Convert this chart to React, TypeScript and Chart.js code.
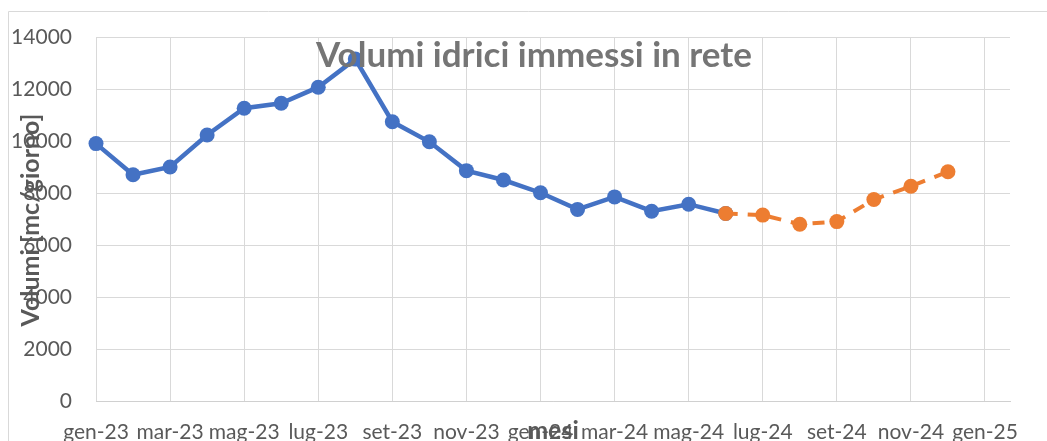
import React, { useEffect, useRef } from "react";
import { Chart, registerables } from "chart.js";

Chart.register(...registerables);

// Month ticks (every 2 months) shown on the x axis
const tickLabels = [
  "gen-23", "mar-23", "mag-23", "lug-23", "set-23", "nov-23",
  "gen-24", "mar-24", "mag-24", "lug-24", "set-24", "nov-24", "gen-25",
];

// Measured volumes, gen-23 .. giu-24 (month index 0..17)
const measuredValues = [
  9900, 8700, 9000, 10230, 11260, 11450, 12070, 13150, 10740, 9970,
  8860, 8500, 8010, 7370, 7850, 7300, 7570, 7210,
];
const measuredStart = 0;

// Forecast volumes, giu-24 .. dic-24 (month index 17..23)
const forecastValues = [7210, 7150, 6800, 6900, 7750, 8260, 8820];
const forecastStart = 17;

const titleText = "Volumi idrici immessi in rete";
const yTitleText = "Volumi [mc/giorno]";
const xTitleText = "mesi";

const FONT = "Lato, 'Open Sans', sans-serif";

export default function App() {
  const ref = useRef<HTMLCanvasElement | null>(null);

  useEffect(() => {
    const canvas = ref.current;
    if (!canvas) return;

    const overlay = {
      id: "overlay",
      beforeDraw(chart: any) {
        const ctx = chart.ctx;
        ctx.save();
        ctx.strokeStyle = "#d9d9d9";
        ctx.lineWidth = 1;
        ctx.beginPath();
        ctx.moveTo(8.5, 460);
        ctx.lineTo(8.5, 11.5);
        ctx.lineTo(1060, 11.5);
        ctx.stroke();
        ctx.restore();
      },
      afterDraw(chart: any) {
        const ctx = chart.ctx;
        ctx.save();
        // Title
        ctx.fillStyle = "#757575";
        ctx.font = `bold 35px ${FONT}`;
        ctx.textAlign = "center";
        ctx.textBaseline = "alphabetic";
        ctx.fillText(titleText, 534, 67);
        // Y title
        ctx.save();
        ctx.translate(39, 220);
        ctx.rotate(-Math.PI / 2);
        ctx.fillStyle = "#595959";
        ctx.font = `bold 25px ${FONT}`;
        ctx.textAlign = "center";
        ctx.textBaseline = "alphabetic";
        ctx.fillText(yTitleText, 0, 0);
        ctx.restore();
        // X title
        ctx.fillStyle = "#595959";
        ctx.font = `bold 25px ${FONT}`;
        ctx.textAlign = "center";
        ctx.textBaseline = "alphabetic";
        ctx.fillText(xTitleText, 553, 439);
        ctx.restore();
      },
    };

    const chart = new Chart(canvas, {
      type: "line",
      data: {
        datasets: [
          {
            label: "previsione",
            data: forecastValues.map((v, i) => ({ x: forecastStart + i, y: v })),
            borderColor: "#ED7D31",
            backgroundColor: "#ED7D31",
            borderWidth: 4,
            borderDash: [12, 10],
            pointRadius: 7.5,
            pointBorderWidth: 0,
            pointBackgroundColor: "#ED7D31",
            tension: 0,
            clip: false,
            order: 0,
          },
          {
            label: "misurati",
            data: measuredValues.map((v, i) => ({ x: measuredStart + i, y: v })),
            borderColor: "#4472C4",
            backgroundColor: "#4472C4",
            borderWidth: 4.5,
            pointRadius: 7.5,
            pointBorderWidth: 0,
            pointBackgroundColor: "#4472C4",
            tension: 0,
            clip: false,
            order: 1,
          },
        ],
      },
      options: {
        responsive: false,
        animation: false,
        devicePixelRatio: 1,
        layout: { padding: { top: 37, right: 37, left: 0, bottom: 0 } },
        plugins: {
          legend: { display: false },
          tooltip: { enabled: false },
          title: { display: false },
        },
        scales: {
          x: {
            type: "linear",
            min: 0,
            max: 24.675,
            afterFit: (s: any) => {
              s.height = 40;
            },
            grid: { color: "#d9d9d9", lineWidth: 1, drawTicks: false },
            border: { color: "#d0d0d0", width: 1 },
            ticks: {
              stepSize: 2,
              includeBounds: false,
              autoSkip: false,
              maxRotation: 0,
              minRotation: 0,
              padding: 19,
              color: "#595959",
              font: { family: FONT, size: 21 },
              callback: (v: any) => {
                const idx = Math.round(Number(v) / 2);
                return Number(v) % 2 === 0 ? tickLabels[idx] ?? "" : "";
              },
            },
          },
          y: {
            min: 0,
            max: 14000,
            afterFit: (s: any) => {
              s.width = 96;
            },
            grid: { color: "#d9d9d9", lineWidth: 1, drawTicks: false },
            border: { display: false },
            ticks: {
              stepSize: 2000,
              padding: 24,
              color: "#595959",
              font: { family: FONT, size: 21 },
              callback: (v: any) => String(v),
            },
          },
        },
      },
      plugins: [overlay],
    } as any);

    return () => chart.destroy();
  }, []);

  return (
    <div style={{ position: "fixed", left: 0, top: 0, width: 1047, height: 441, background: "#fff" }}>
      <canvas ref={ref} width={1047} height={441} style={{ display: "block" }} />
    </div>
  );
}
